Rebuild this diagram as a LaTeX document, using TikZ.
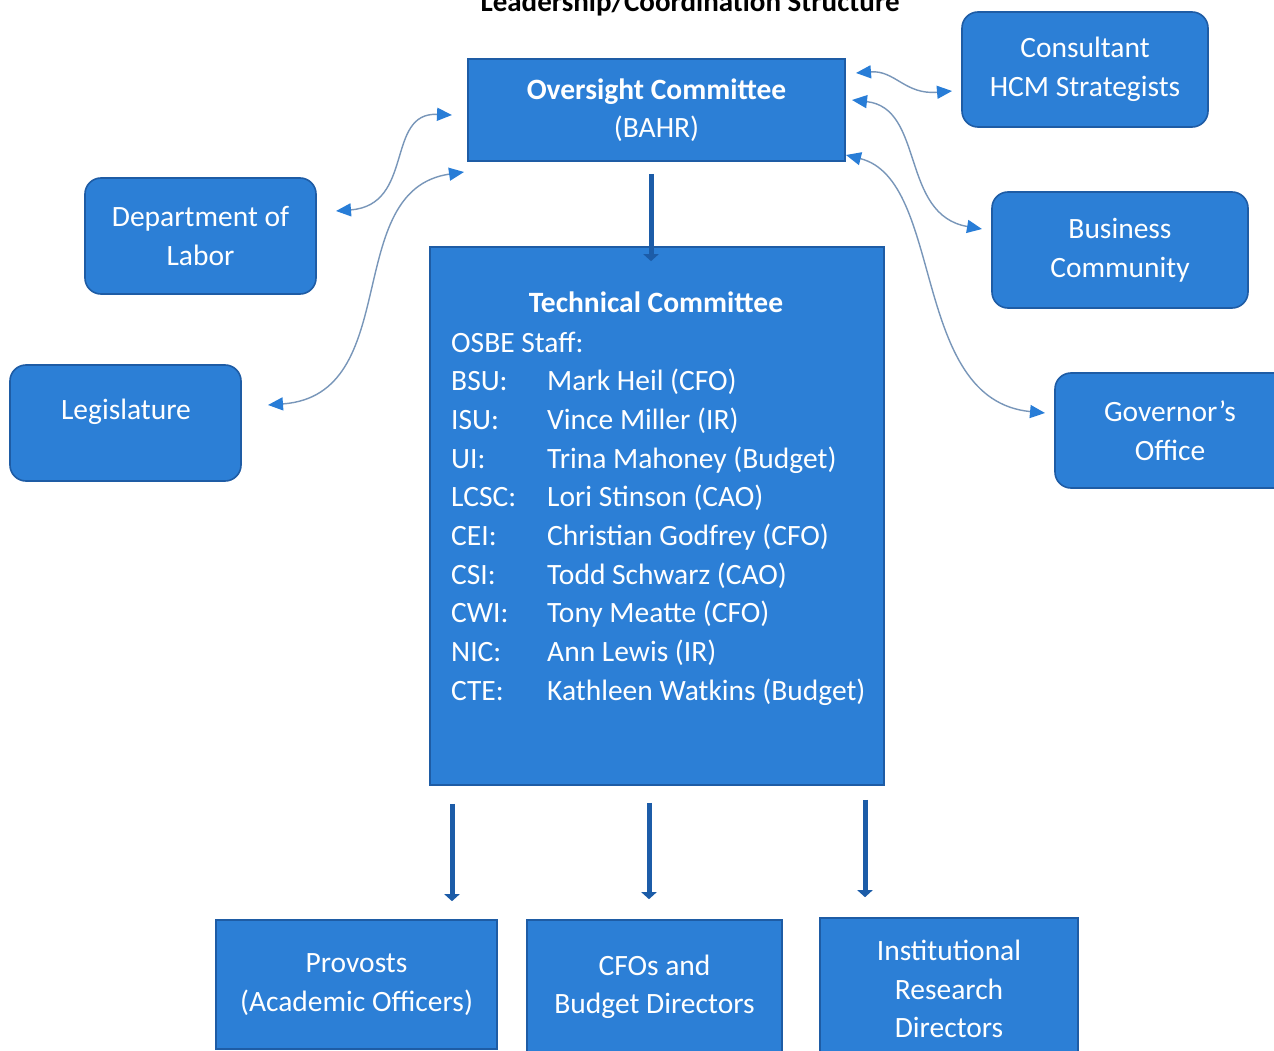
\documentclass[tikz,border=0pt]{standalone}
\usepackage{fontspec}
\setmainfont{Carlito}
\usetikzlibrary{arrows.meta}
\definecolor{boxfill}{RGB}{44,127,214}
\definecolor{boxline}{RGB}{30,92,165}
\definecolor{darkarrow}{RGB}{28,92,168}
\definecolor{curveline}{RGB}{120,150,185}
\definecolor{headblue}{RGB}{40,125,215}
\tikzset{
  sqbox/.style={draw=boxline, line width=1.6pt, fill=boxfill, text=white, align=center, inner sep=0pt,
    font=\fontsize{29.5}{38.5}\selectfont},
  rbox/.style={sqbox, rounded corners=16pt},
  downarrow/.style={draw=darkarrow, line width=5pt, -{Triangle[length=7pt,width=15pt]}},
  twoway/.style={draw=curveline, line width=1.4pt,
    {Triangle[length=15pt,width=13pt,color=headblue]}-{Triangle[length=15pt,width=13pt,color=headblue]}},
  wtext/.style={text=white, inner sep=0pt, font=\fontsize{29.5}{38.7}\selectfont},
}
\begin{document}
\begin{tikzpicture}[x=1pt,y=-1pt]
\clip (0,0) rectangle (1274,1051);
\fill[white] (0,0) rectangle (1274,1051);

% title
\node[anchor=base, inner sep=0pt, font=\fontsize{29}{32}\selectfont\bfseries] (title) at (690,12) {Leadership/Coordination Structure};

% boxes
\node[sqbox, minimum width=377pt, minimum height=102pt] (ov) at (656.5,110) {\textbf{Oversight Committee}\\(BAHR)};
\node[rbox, minimum width=246pt, minimum height=115pt] (cons) at (1085,69.5) {Consultant\\HCM Strategists};
\node[rbox, minimum width=256pt, minimum height=116pt] (bus) at (1120,250) {Business\\Community};
\node[rbox, minimum width=240pt, minimum height=115pt] (gov) at (1175,430.5) {\hspace*{-10pt}Governor’s\\\hspace*{-10pt}Office};
\node[rbox, minimum width=231pt, minimum height=116pt] (dol) at (200.5,236) {Department of\\Labor};
\node[rbox, minimum width=231pt, minimum height=116pt] (leg) at (125.5,423) {};
\node[wtext] (legt) at (126,412) {Legislature};

\node[sqbox, minimum width=454pt, minimum height=538pt] (tech) at (657,516) {};
\node[wtext, anchor=base, font=\fontsize{29.5}{38.7}\selectfont\bfseries] (techt) at (656,312) {Technical Committee};
\node[wtext, anchor=base west] (list) at (451,352) {%
\renewcommand\arraystretch{1}%
\begin{tabular}[t]{@{}p{96pt}@{}l@{}}
\multicolumn{2}{@{}l@{}}{OSBE Staff:}\\
BSU: & Mark Heil (CFO)\\
ISU: & Vince Miller (IR)\\
UI: & Trina Mahoney (Budget)\\
LCSC: & Lori Stinson (CAO)\\
CEI: & Christian Godfrey (CFO)\\
CSI: & Todd Schwarz (CAO)\\
CWI: & Tony Meatte (CFO)\\
NIC: & Ann Lewis (IR)\\
CTE: & Kathleen Watkins (Budget)
\end{tabular}};

\node[sqbox, minimum width=281pt, minimum height=129pt] (prov) at (356.5,984.5) {Provosts\\(Academic Officers)};
\node[sqbox, minimum width=255pt, minimum height=134pt] (cfo) at (654.5,987) {CFOs and\\Budget Directors};
\node[sqbox, minimum width=258pt, minimum height=142pt] (ir) at (949,989) {Institutional\\Research\\Directors};

% straight arrows
\draw[downarrow] (ov.south -| 651,0) ++(0,12) -- ([yshift=-15pt]tech.north -| 651,0);
\draw[downarrow] (tech.south -| 452,0) ++(0,18) -- ([yshift=18pt]prov.north -| 452,0);
\draw[downarrow] (tech.south -| 649,0) ++(0,17) -- ([yshift=20pt]cfo.north -| 649,0);
\draw[downarrow] (tech.south -| 865,0) ++(0,14) -- ([yshift=20pt]ir.north -| 865,0);

% curved two-way arrows
\coordinate (c1a) at (856,73);
\coordinate (c1b) at (952,91);
\draw[twoway] (c1a) .. controls (895,70) and (905,95) .. (c1b);

\coordinate (c2a) at (852,100);
\coordinate (c2b) at (982,229);
\draw[twoway] (c2a) .. controls (925,108) and (900,215) .. (c2b);

\coordinate (c3a) at (846,155);
\coordinate (c3b) at (1045,413);
\draw[twoway] (c3a) .. controls (945,180) and (910,400) .. (c3b);

\coordinate (c4a) at (452,115);
\coordinate (c4b) at (336,211);
\draw[twoway] (c4a) .. controls (385,112) and (415,205) .. (c4b);

\coordinate (c5a) at (464,172);
\coordinate (c5b) at (268,405);
\draw[twoway] (c5a) .. controls (340,190) and (405,395) .. (c5b);
\end{tikzpicture}
\end{document}
